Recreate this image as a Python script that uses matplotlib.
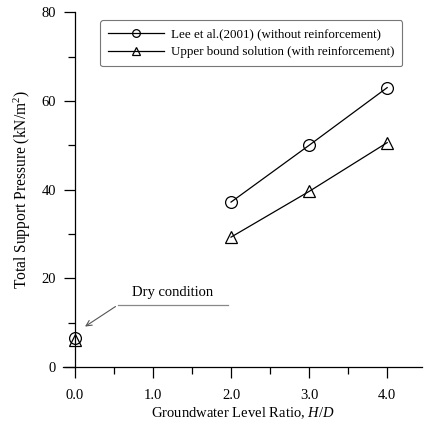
import numpy as np
import matplotlib
matplotlib.use('Agg')
import matplotlib.pyplot as plt

plt.rcParams['font.family'] = 'Liberation Serif'
plt.rcParams['mathtext.fontset'] = 'custom'
plt.rcParams['mathtext.rm'] = 'Liberation Serif'
plt.rcParams['mathtext.it'] = 'Liberation Serif:italic'

# data
hd = [2.0, 3.0, 4.0]
lee = [37.2, 50.0, 63.0]
upper = [29.3, 39.6, 50.6]
# dry condition (H/D = 0)
dry_hd = [0.0]
dry_lee = [6.5]
dry_upper = [6.2]

fig = plt.figure(figsize=(4.24, 4.21), dpi=100)
ax = fig.add_axes([0.149, 0.128, 0.847, 0.843])

ax.plot(hd, lee, 'k-', marker='o', mfc='none', ms=8.5, lw=0.9, mew=0.9,
        label='Lee et al.(2001) (without reinforcement)')
ax.plot(hd, upper, 'k-', marker='^', mfc='none', ms=8.5, lw=0.9, mew=0.9,
        label='Upper bound solution (with reinforcement)')
ax.plot(dry_hd, dry_lee, 'ko', mfc='none', ms=8.5, mew=0.9)
ax.plot(dry_hd, dry_upper, 'k^', mfc='none', ms=8.5, mew=0.9)

ax.set_xlim(-0.15, 4.45)
ax.set_ylim(0, 80)
ax.spines['left'].set_position(('data', 0))
ax.spines['top'].set_visible(False)
ax.spines['right'].set_visible(False)
for s in ['left', 'bottom']:
    ax.spines[s].set_linewidth(0.9)

ax.set_xticks([0, 1, 2, 3, 4])
ax.set_xticklabels(['0.0', '1.0', '2.0', '3.0', '4.0'])
ax.set_xticks([0.5, 1.5, 2.5, 3.5], minor=True)
ax.set_yticks([0, 20, 40, 60, 80])
ax.set_yticks([10, 30, 50, 70], minor=True)
ax.tick_params(which='major', length=8, width=0.9, labelsize=10.5)
ax.tick_params(axis='x', which='major', pad=8)
ax.tick_params(axis='y', which='major', pad=5.5)
ax.tick_params(which='minor', length=5, width=0.9)

ax.set_xlabel('Groundwater Level Ratio, $\\mathit{H/D}$', fontsize=10.5, labelpad=2)
ax.set_ylabel('Total Support Pressure (kN/m$^2$)', fontsize=11.2)
ax.yaxis.set_label_coords(-0.084, 0.5)

# annotation
ax.plot([0.55, 1.96], [14, 14], color='#888888', lw=0.9)
ax.annotate('', xy=(0.1, 8.8), xytext=(0.55, 14),
            arrowprops=dict(arrowstyle='->', color='#555555', lw=0.8))
ax.text(1.25, 15.3, 'Dry condition', fontsize=10.5, ha='center', va='bottom')

leg = ax.legend(loc='upper right', bbox_to_anchor=(0.944, 0.977), fontsize=9.4,
                frameon=True, fancybox=True, edgecolor='#555555', markerscale=0.65,
                handlelength=4.3, borderpad=0.6, labelspacing=0.45, handletextpad=0.5,
                borderaxespad=0)
leg.get_frame().set_linewidth(0.8)

fig.savefig('out.png', dpi=100)
